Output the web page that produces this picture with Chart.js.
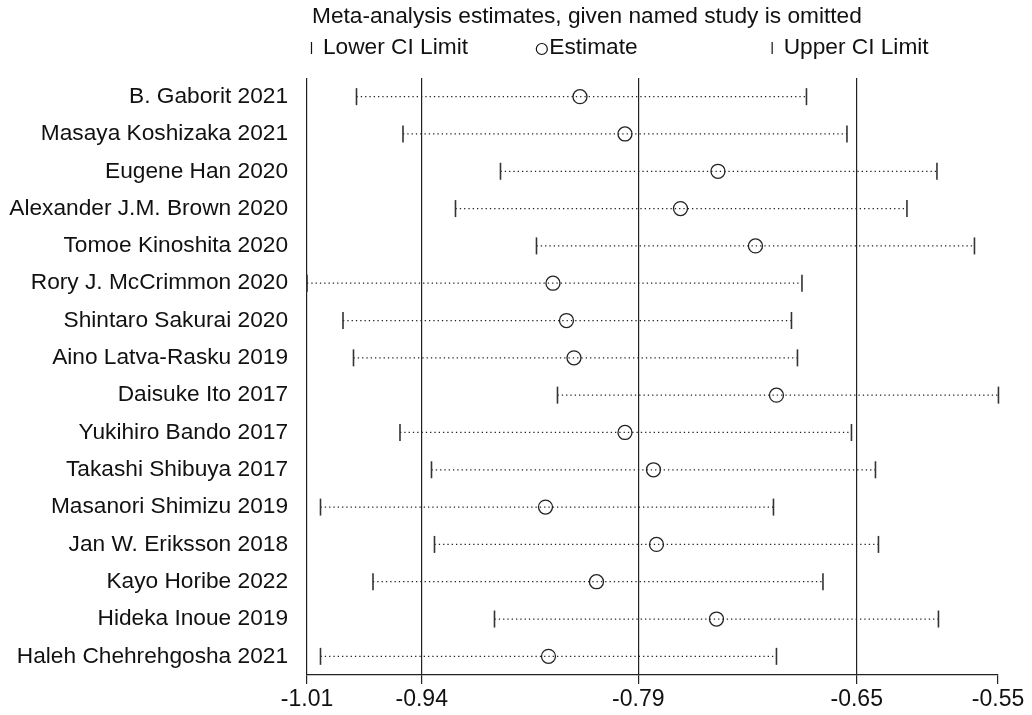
<!DOCTYPE html>
<html>
<head>
<meta charset="utf-8">
<script src="https://cdn.jsdelivr.net/npm/chart.js@4/dist/chart.umd.min.js"></script>
<style>
  html, body { margin: 0; padding: 0; background: #fff; }
  #wrap { width: 1032px; height: 715px; }
</style>
</head>
<body>
<div id="wrap"><canvas id="chart" width="1032" height="715"></canvas></div>
<script>
// Данные: исследования и оценки при исключении каждого
const studies = [
  'B. Gaborit 2021', 'Masaya Koshizaka 2021', 'Eugene Han 2020', 'Alexander J.M. Brown 2020',
  'Tomoe Kinoshita 2020', 'Rory J. McCrimmon 2020', 'Shintaro Sakurai 2020', 'Aino Latva-Rasku 2019',
  'Daisuke Ito 2017', 'Yukihiro Bando 2017', 'Takashi Shibuya 2017', 'Masanori Shimizu 2019',
  'Jan W. Eriksson 2018', 'Kayo Horibe 2022', 'Hideka Inoue 2019', 'Haleh Chehrehgosha 2021'
];
const lowerCI = [-0.981, -0.950, -0.885, -0.915, -0.861, -1.014, -0.990, -0.983,
                 -0.847, -0.952, -0.931, -1.005, -0.929, -0.970, -0.889, -1.005];
const estimate = [-0.832, -0.802, -0.740, -0.765, -0.715, -0.850, -0.841, -0.836,
                  -0.701, -0.802, -0.783, -0.855, -0.781, -0.821, -0.741, -0.853];
const upperCI = [-0.681, -0.654, -0.594, -0.614, -0.569, -0.684, -0.691, -0.687,
                 -0.553, -0.651, -0.635, -0.703, -0.633, -0.670, -0.593, -0.701];

// Деления оси X: точные значения и подписи
const tickValues = [-1.014, -0.9375, -0.7931, -0.6475, -0.5533];
const tickLabels = ['-1.01', '-0.94', '-0.79', '-0.65', '-0.55'];

const FONT = "'Liberation Sans', Arial, sans-serif";
const INK = '#111';

// Пунктирные линии CI — по одному набору на исследование
const ciLines = studies.map((s, i) => ({
  data: [{ x: lowerCI[i], y: s }, { x: upperCI[i], y: s }],
  showLine: true,
  borderColor: '#222',
  borderWidth: 1.3,
  borderDash: [1.3, 3],
  pointRadius: 0,
  clip: false
}));

// Заголовок и легенда сверху
const headerPlugin = {
  id: 'header',
  afterDraw(chart) {
    const { ctx, chartArea } = chart;
    const left = chartArea.left;
    const third = (chartArea.right - chartArea.left) / 3;
    ctx.save();
    ctx.fillStyle = INK;
    ctx.strokeStyle = INK;
    ctx.font = '22.7px ' + FONT;
    ctx.textBaseline = 'middle';
    ctx.textAlign = 'left';
    ctx.fillText('Meta-analysis estimates, given named study is omitted', left + 5, 17);

    const ly = 48;
    ctx.lineWidth = 1.2;
    // Lower CI Limit
    ctx.beginPath();
    ctx.moveTo(left + 4.5, ly - 6); ctx.lineTo(left + 4.5, ly + 6);
    ctx.stroke();
    ctx.fillText('Lower CI Limit', left + 16, ly);
    // Estimate
    ctx.beginPath();
    ctx.arc(left + third + 4.5, ly + 1, 5.5, 0, Math.PI * 2);
    ctx.stroke();
    ctx.fillText('Estimate', left + third + 12, ly);
    // Upper CI Limit
    ctx.beginPath();
    ctx.moveTo(left + 2 * third + 4.5, ly - 6); ctx.lineTo(left + 2 * third + 4.5, ly + 6);
    ctx.stroke();
    ctx.fillText('Upper CI Limit', left + 2 * third + 16, ly);
    ctx.restore();
  }
};

new Chart(document.getElementById('chart'), {
  type: 'scatter',
  data: {
    datasets: [
      {
        data: studies.map((s, i) => ({ x: estimate[i], y: s })),
        pointStyle: 'circle',
        pointRadius: 7,
        borderColor: '#222',
        borderWidth: 1.3,
        backgroundColor: 'transparent',
        clip: false
      },
      {
        data: studies.map((s, i) => ({ x: lowerCI[i], y: s })),
        pointStyle: 'line',
        rotation: 90,
        pointRadius: 8.5,
        borderColor: '#333',
        borderWidth: 1.6,
        clip: false
      },
      {
        data: studies.map((s, i) => ({ x: upperCI[i], y: s })),
        pointStyle: 'line',
        rotation: 90,
        pointRadius: 8.5,
        borderColor: '#333',
        borderWidth: 1.6,
        clip: false
      },
      ...ciLines
    ]
  },
  options: {
    responsive: false,
    animation: false,
    events: [],
    layout: { padding: { top: 78, right: 34, left: 0, bottom: 0 } },
    plugins: { legend: { display: false }, tooltip: { enabled: false }, title: { display: false } },
    scales: {
      x: {
        type: 'linear',
        min: tickValues[0],
        max: tickValues[tickValues.length - 1],
        afterBuildTicks: scale => { scale.ticks = tickValues.map(v => ({ value: v })); },
        afterFit: scale => { scale.height = 40; },
        grid: {
          color: ctx => (ctx.index < 4 ? '#222' : 'transparent'),
          tickColor: '#222',
          lineWidth: 1.2,
          tickLength: 9
        },
        border: { display: true, color: '#222', width: 1.2 },
        ticks: {
          autoSkip: false,
          maxRotation: 0,
          padding: 2,
          color: INK,
          font: { family: FONT, size: 23 },
          callback: (value, index) => tickLabels[index]
        }
      },
      y: {
        type: 'category',
        labels: studies,
        offset: true,
        afterFit: scale => { scale.width = 307; },
        grid: { display: false, drawTicks: false },
        border: { display: false },
        ticks: {
          autoSkip: false,
          padding: 19,
          color: INK,
          font: { family: FONT, size: 22.7 }
        }
      }
    }
  },
  plugins: [headerPlugin]
});
</script>
</body>
</html>
